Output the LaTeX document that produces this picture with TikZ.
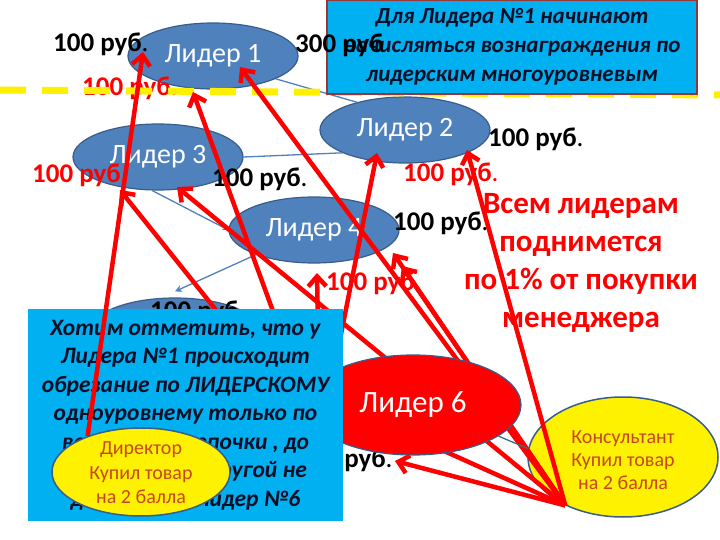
\documentclass[tikz,border=0pt]{standalone}
\usepackage{fontspec}
\setmainfont{Carlito}
\usetikzlibrary{shapes.geometric,arrows.meta}
\definecolor{ellblue}{RGB}{79,129,189}
\definecolor{ellborder}{RGB}{56,93,138}
\definecolor{skyb}{RGB}{0,176,240}
\definecolor{boxframe}{RGB}{149,55,53}
\definecolor{ytext}{RGB}{200,70,30}
\definecolor{navytext}{RGB}{10,15,40}
\definecolor{dashyellow}{RGB}{255,240,0}
\definecolor{arrowred}{RGB}{255,0,0}
\definecolor{tealline}{RGB}{60,110,130}
\newcommand\rubsum[1]{{\bfseries #1 руб}.}
\begin{document}
\begin{tikzpicture}[x=1pt,y=-1pt,
  leader/.style={ellipse, fill=ellblue, draw=ellborder, line width=1.2pt,
    minimum width=170pt, minimum height=66pt, inner sep=0pt, text=white,
    font=\fontsize{28}{32}\selectfont},
  buyer/.style={ellipse, fill=yellow, draw=ellborder, line width=1.5pt, inner sep=0pt},
  buyertext/.style={align=center, text=ytext, inner sep=0pt},
  price/.style={anchor=base west, inner sep=0pt, font=\fontsize{27}{30}\selectfont},
  redarrow/.style={draw=arrowred, line width=4.5pt, -{Straight Barb[length=10pt,width=18pt]}},
  treeline/.style={draw=ellblue, line width=1.3pt},
  infobox/.style={fill=skyb, inner sep=0pt, align=center, text=navytext,
    font=\fontsize{23.5}{28.5}\selectfont\bfseries\itshape},
]
\useasboundingbox (0,0) rectangle (720,540);
\fill[white] (0,0) rectangle (720,540);

% leaders
\node[leader] (l1) at (213,56) {Лидер 1};
\node[leader] (l2) at (405,130) {Лидер 2};
\node[leader] (l3) at (158,157) {Лидер 3};
\node[leader] (l4) at (314,230) {Лидер 4};
\node[leader] (l5) at (175,331) {};

% tree connectors
\draw[treeline] (l1.-20) -- (l2.150);
\draw[treeline] (l3.east) -- (l2.200);
\draw[treeline, -{Stealth[length=6pt,width=6pt]}] (l3.-100) -- (l4.west);
\draw[treeline, -{Stealth[length=7pt,width=7pt]}] (l4.203) -- ([yshift=6pt]l5.north);

% prices
\node[price] (p1) at (53,52) {\rubsum{100}};
\node[price, text=red] (p3) at (82,96) {\rubsum{100}};
\node[price, text=red] (p4) at (32,183) {\rubsum{100}};
\node[price] (p5) at (212,187) {\rubsum{100}};
\node[price] (p6) at (488,147) {\rubsum{100}};
\node[price, text=red] (p7) at (403,182) {\rubsum{100}};
\node[price] (p8) at (393,230) {\rubsum{100}};
\node[price, text=red] (p9) at (326,290) {\rubsum{100}};
\node[price] (p10) at (150,319) {\rubsum{100}};
\node[price] (p11) at (297,467) {\rubsum{100}};

% yellow dashed line
\coordinate (yl) at (0,90);
\coordinate (yr) at (720,95);
\draw[dashyellow, line width=7pt, dash pattern=on 26pt off 16pt] (yl) -- (yr);

% consultant and fan points
\node[buyer, minimum width=190pt, minimum height=120pt] (kons) at (623,457) {};
\coordinate (k) at (kons.220);
\coordinate (h) at (320,440);
\coordinate (t1a) at (143,52);
\coordinate (t1b) at (193,92);
\coordinate (t1c) at (240,67);
\coordinate (t3a) at (120,190);
\coordinate (t3b) at (177,187);
\coordinate (t2a) at (377,153);
\coordinate (t2b) at (467,150);
\coordinate (t4a) at (317,273);
\coordinate (t4b) at (393,253);
\coordinate (t4c) at (402,266);
\coordinate (t5) at (395,461);
\coordinate (t6) at (175,330);

% red arrows
\draw[redarrow] (h) -- (t1b);
\draw[redarrow] (h) -- (t3a);
\draw[redarrow] (h) -- (t2a);
\draw[redarrow] (h) -- (t4a);
\draw[redarrow] (k) -- (t1c);
\draw[redarrow] (k) -- (t3b);
\draw[redarrow] (k) -- (t2b);
\draw[redarrow] (k) -- (t4b);
\draw[redarrow] (k) -- (t4c);
\draw[redarrow] (k) -- (t5);
\draw[redarrow] (k) -- (t6);

% leader 6
\node[leader, fill=red, minimum width=216pt, minimum height=100pt,
  font=\fontsize{31}{34}\selectfont] (l6) at (413,405) {Лидер 6};
\draw[treeline, draw=tealline] (l6.-20) -- (kons.175);

% top box
\node[infobox, draw=boxframe, line width=1.5pt, minimum width=370pt, minimum height=94pt,
  font=\fontsize{23}{29}\selectfont\bfseries\itshape]
  (topbox) at (512,47) {Для Лидера №1 начинают\\начисляться вознаграждения по\\лидерским многоуровневым};
\node[price] (p2) at (295,53) {\bfseries 300 руб};

% bottom box
\node[infobox, minimum width=315pt, minimum height=212pt] (botbox) at (185.5,415)
  {Хотим отметить, что у\\Лидера №1 происходит\\обрезание по ЛИДЕРСКОМУ\\одноуровнему только по\\вертикали цепочки , до\\тех пор пока другой не\\достигнет Лидер №6};

% director
\node[buyer, minimum width=178pt, minimum height=88pt] (dir) at (141,472) {};
\coordinate (d0) at (dir.146);
\draw[redarrow] (d0) -- (t1a);
\node[buyertext, font=\fontsize{20}{24.5}\selectfont] (dirtext) at (141,473) {Директор\\Купил товар\\на 2 балла};
\node[buyertext, font=\fontsize{20}{23}\selectfont] (konstext) at (623,460) {Консультант\\Купил товар\\на 2 балла};

% note
\node[text=red, align=center, inner sep=0pt, font=\fontsize{31}{38}\selectfont\bfseries]
  (note) at (581,263) {Всем лидерам\\поднимется\\по 1\% от покупки\\менеджера};
\end{tikzpicture}
\end{document}
